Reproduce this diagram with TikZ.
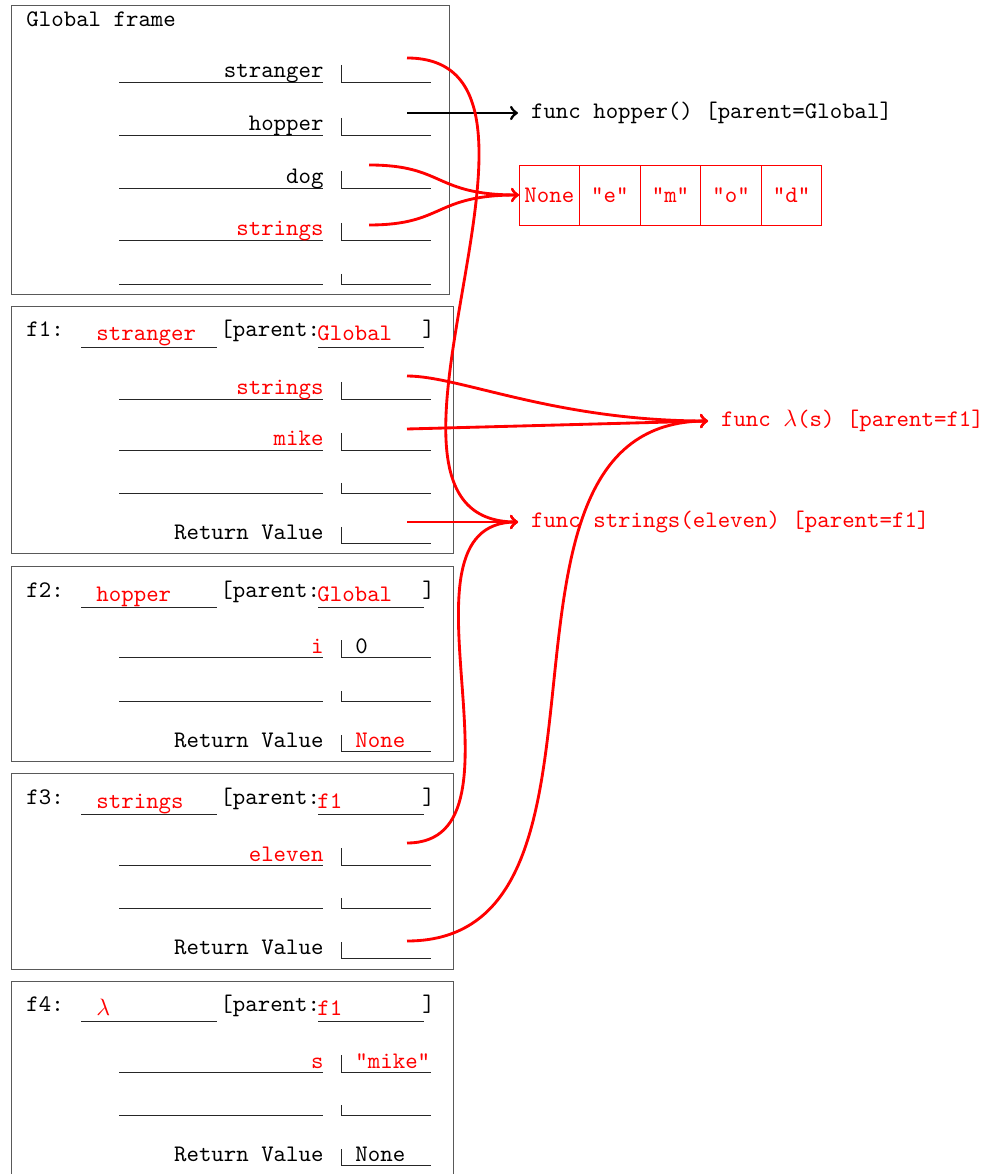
\documentclass[tikz,border=0pt]{standalone}
\usetikzlibrary{positioning}

\begin{document}
\begin{tikzpicture}[x=0.4217pt, y=-0.4217pt, font=\ttfamily,
    framebox/.style={draw=black!65, thin},
    slotline/.style={draw=black!85, thin},
    varname/.style={anchor=base east, inner sep=0pt},
    varval/.style={anchor=base west, inner sep=0pt},
    hdr/.style={anchor=base west, inner sep=0pt},
    ptr/.style={->, very thick, red},
    cell/.style={rectangle, draw=red, thin, text=red, inner sep=0pt, outer sep=0pt,
    minimum width=25.55pt, minimum height=25.3pt},
    objtext/.style={anchor=west, inner xsep=5.3pt, inner ysep=0pt}]
    \useasboundingbox (0, 0) rectangle (999, 1174);

    % Global frame
    \draw [framebox] (11, 5) rectangle (449, 294);
	\node (GTitle) at (26, 27) [hdr] {Global frame};
	\draw [slotline] (119, 82) -- (323, 82) (341, 65) |- (431, 82);
	\node (GStranger) at (324, 78) [varname] {stranger};
	\coordinate (GStrangerP) at (407, 58);
	\draw [slotline] (119, 135) -- (323, 135) (341, 118) |- (431, 135);
	\node (GHopper) at (324, 131) [varname] {hopper};
	\coordinate (GHopperP) at (407, 113);
	\draw [slotline] (119, 188) -- (323, 188) (341, 171) |- (431, 188);
	\node (GDog) at (324, 184) [varname] {dog};
	\coordinate (GDogP) at (369, 165);
	\draw [slotline] (119, 240) -- (323, 240) (341, 223) |- (431, 240);
	\node (GStrings) at (324, 236) [varname, red] {strings};
	\coordinate (GStringsP) at (369, 225);
	\draw [slotline] (119, 284) -- (323, 284) (341, 274) |- (431, 284);

    % f1
    \draw [framebox] (11, 306) rectangle (453, 553);
	\node (F1Title) at (26, 337) [hdr] {f1:};
	\draw [slotline] (81, 347) -- (217, 347) (318, 347) -- (424, 347);
	\node (F1Name) at (96, 341) [hdr, red] {stranger};
	\node (F1Par) at (220, 337) [hdr] {[parent:};
	\node (F1ParName) at (317, 341) [hdr, red] {Global};
	\node (F1Close) at (422, 337) [hdr] {]};
	\draw [slotline] (119, 399) -- (323, 399) (341, 382) |- (431, 399);
	\node (F1Strings) at (324, 395) [varname, red] {strings};
	\coordinate (F1StringsP) at (407, 376);
	\draw [slotline] (119, 450) -- (323, 450) (341, 433) |- (431, 450);
	\node (F1Mike) at (324, 446) [varname, red] {mike};
	\coordinate (F1MikeP) at (407, 429);
	\draw [slotline] (119, 493) -- (323, 493) (341, 483) |- (431, 493);
	\draw [slotline] (341, 527) |- (431, 543);
	\node (F1Ret) at (324, 539) [varname] {Return Value};
	\coordinate (F1RetP) at (407, 522);

    % f2
    \draw [framebox] (11, 566) rectangle (453, 761);
	\node (F2Title) at (26, 597) [hdr] {f2:};
	\draw [slotline] (81, 607) -- (217, 607) (318, 607) -- (424, 607);
	\node (F2Name) at (96, 601) [hdr, red] {hopper};
	\node (F2Par) at (220, 597) [hdr] {[parent:};
	\node (F2ParName) at (317, 601) [hdr, red] {Global};
	\node (F2Close) at (422, 597) [hdr] {]};
	\draw [slotline] (119, 657) -- (323, 657) (341, 640) |- (431, 657);
	\node (F2I) at (324, 653) [varname, red] {i};
	\node (F2IVal) at (355, 653) [varval] {0};
	\draw [slotline] (119, 701) -- (323, 701) (341, 691) |- (431, 701);
	\draw [slotline] (341, 735) |- (431, 751);
	\node (F2Ret) at (324, 747) [varname] {Return Value};
	\node (F2RetVal) at (355, 747) [varval, red] {None};

    % f3
    \draw [framebox] (11, 773) rectangle (453, 969);
	\node (F3Title) at (26, 804) [hdr] {f3:};
	\draw [slotline] (81, 814) -- (217, 814) (318, 814) -- (424, 814);
	\node (F3Name) at (96, 808) [hdr, red] {strings};
	\node (F3Par) at (220, 804) [hdr] {[parent:};
	\node (F3ParName) at (317, 808) [hdr, red] {f1};
	\node (F3Close) at (422, 804) [hdr] {]};
	\draw [slotline] (119, 865) -- (323, 865) (341, 848) |- (431, 865);
	\node (F3Eleven) at (324, 861) [varname, red] {eleven};
	\coordinate (F3ElevenP) at (407, 843);
	\draw [slotline] (119, 908) -- (323, 908) (341, 898) |- (431, 908);
	\draw [slotline] (341, 942) |- (431, 958);
	\node (F3Ret) at (324, 954) [varname] {Return Value};
	\coordinate (F3RetP) at (407, 941);

    % f4
    \draw [framebox] (11, 981) rectangle (453, 1190);
	\node (F4Title) at (26, 1011) [hdr] {f4:};
	\draw [slotline] (81, 1021) -- (217, 1021) (318, 1021) -- (424, 1021);
	\node (F4Name) at (96, 1015) [hdr, red] {$\lambda$};
	\node (F4Par) at (220, 1011) [hdr] {[parent:};
	\node (F4ParName) at (317, 1015) [hdr, red] {f1};
	\node (F4Close) at (422, 1011) [hdr] {]};
	\draw [slotline] (119, 1072) -- (323, 1072) (341, 1055) |- (431, 1072);
	\node (F4S) at (324, 1068) [varname, red] {s};
	\node (F4SVal) at (355, 1068) [varval, red] {"mike"};
	\draw [slotline] (119, 1115) -- (323, 1115) (341, 1105) |- (431, 1115);
	\draw [slotline] (341, 1149) |- (431, 1165);
	\node (F4Ret) at (324, 1161) [varname] {Return Value};
	\node (F4RetVal) at (355, 1161) [varval] {None};

    % objects
	\node (FHopper) at (518, 113) [objtext] {func hopper() [parent=Global]};
	\node (FLam) at (708, 421) [objtext, red] {func $\lambda$(s) [parent=f1]};
	\node (FStrEl) at (518, 522) [objtext, red] {func strings(eleven) [parent=f1]};
	\node (L0) at (549.3, 195) [cell] {None};
	\node (L1) [cell, right=0pt of L0] {"e"};
	\node (L2) [cell, right=0pt of L1] {"m"};
	\node (L3) [cell, right=0pt of L2] {"o"};
	\node (L4) [cell, right=0pt of L3] {"d"};

    % pointers
	\draw [->, very thick] (GHopperP) -- (FHopper.west);
	\draw [ptr] (GStrangerP) .. controls (597, 58) and (329, 522) .. (FStrEl.west);
	\draw [ptr] (GDogP) .. controls (445, 165) and (433, 195) .. (L0.west);
	\draw [ptr] (GStringsP) .. controls (445, 225) and (433, 195) .. (L0.west);
	\draw [ptr] (F1StringsP) .. controls (460, 376) and (555, 421) .. (FLam.west);
	\draw [ptr] (F1MikeP) -- (FLam.west);
	\draw [ptr] (F1RetP) -- (FStrEl.west);
	\draw [ptr] (F3ElevenP) .. controls (540, 843) and (384, 522) .. (FStrEl.west);
	\draw [ptr] (F3RetP) .. controls (648, 941) and (458, 421) .. (FLam.west);
\end{tikzpicture}
\end{document}
